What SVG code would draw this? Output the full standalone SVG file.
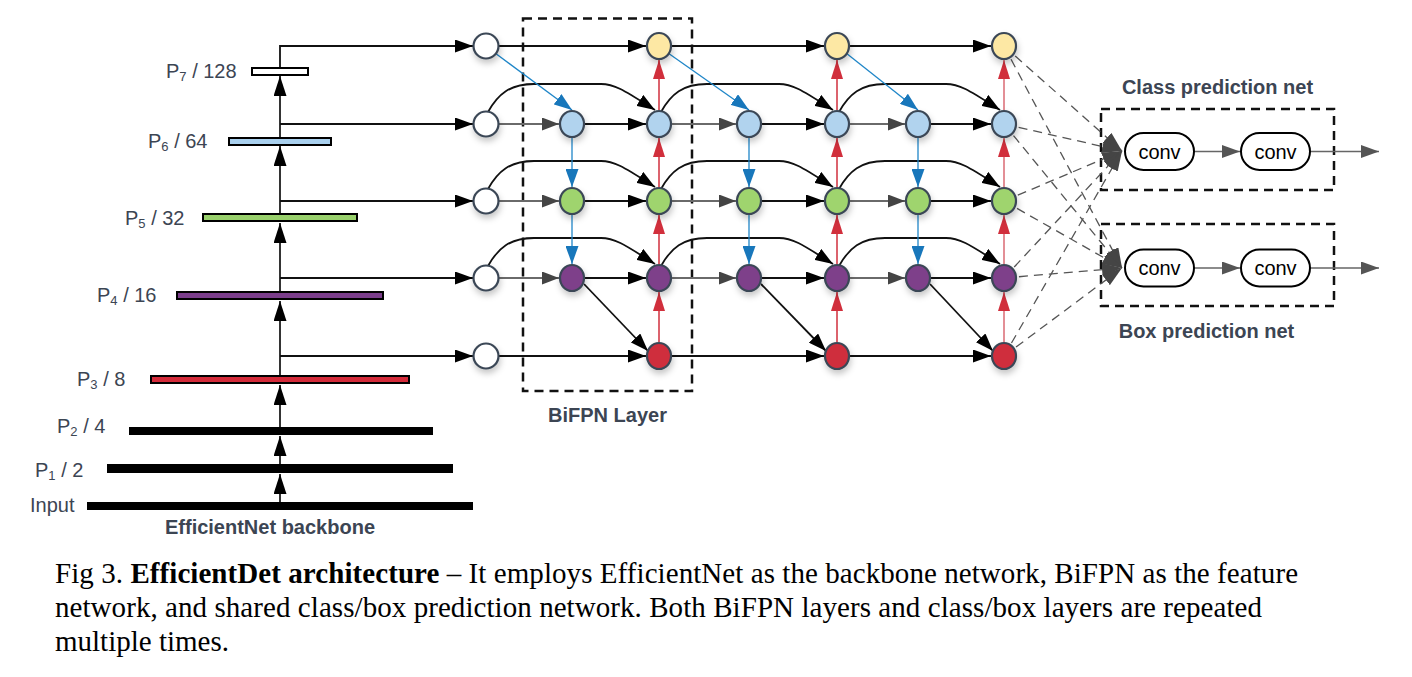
<svg xmlns="http://www.w3.org/2000/svg" width="1412" height="677" viewBox="0 0 1412 677">
<defs>
<style>
.lbl{font-family:"Liberation Sans",Arial,sans-serif;font-size:20px;fill:#3c4553}
.bd{font-weight:bold}
.cap{font-family:"Liberation Serif","Times New Roman",serif;font-size:29px;fill:#000}
.conv{font-family:"Liberation Sans",Arial,sans-serif;font-size:20px;fill:#000;text-anchor:middle}
.node{stroke:#3b4756;stroke-width:2.2;filter:url(#sh)}
.w{fill:#fff}.y{fill:#fde8a4}.b{fill:#b1d3ee}.g{fill:#9fd46e}.p{fill:#7e3f8a}.r{fill:#cf2e3d}
.bb{stroke:#000;stroke-width:1.6;fill:none}
.bba{stroke:#000;stroke-width:1.6;fill:none;marker-end:url(#mbb)}
.k{stroke:#111;stroke-width:1.8;fill:none;marker-end:url(#mk)}
.gr{stroke:#6a6a6a;stroke-width:1.8;fill:none;marker-end:url(#mg)}
.bl{stroke:#1f86c8;stroke-width:1.3;fill:none;marker-end:url(#mb)}
.rd{stroke:#d12f3c;stroke-width:1.5;fill:none;marker-end:url(#mr)}
.rdl{stroke:#e0838b;stroke-width:1.8;fill:none;marker-end:url(#mr)}
.ds{stroke:#555;stroke-width:1.3;stroke-dasharray:9 6;fill:none;marker-end:url(#md)}
.cg{stroke:#666;stroke-width:1.6;fill:none;marker-end:url(#mc)}
.box{fill:none;stroke:#111;stroke-width:2.5;stroke-dasharray:9 6}
.pill{fill:#fff;stroke:#000;stroke-width:2}
</style>
<filter id="sh" x="-60%" y="-60%" width="220%" height="220%"><feDropShadow dx="1" dy="4" stdDeviation="3" flood-color="#000" flood-opacity="0.22"/></filter>
<marker id="mbb" markerUnits="userSpaceOnUse" markerWidth="20" markerHeight="13" refX="20" refY="6.5" orient="auto"><path d="M0,0 L20,6.5 L0,13 Z" fill="#000"/></marker>
<marker id="mk" markerUnits="userSpaceOnUse" markerWidth="18" markerHeight="13" refX="18" refY="6.5" orient="auto"><path d="M0,0 L18,6.5 L0,13 Z" fill="#000"/></marker>
<marker id="mg" markerUnits="userSpaceOnUse" markerWidth="17" markerHeight="13" refX="17" refY="6.5" orient="auto"><path d="M0,0 L17,6.5 L0,13 Z" fill="#444"/></marker>
<marker id="mb" markerUnits="userSpaceOnUse" markerWidth="18" markerHeight="13" refX="18" refY="6.5" orient="auto"><path d="M0,0 L18,6.5 L0,13 Z" fill="#1877bb"/></marker>
<marker id="mr" markerUnits="userSpaceOnUse" markerWidth="19" markerHeight="12" refX="19" refY="6" orient="auto"><path d="M0,0 L19,6 L0,12 Z" fill="#d12f3c"/></marker>
<marker id="md" markerUnits="userSpaceOnUse" markerWidth="20" markerHeight="13" refX="20" refY="6.5" orient="auto"><path d="M0,0 L20,6.5 L0,13 Z" fill="#454545"/></marker>
<marker id="mc" markerUnits="userSpaceOnUse" markerWidth="18" markerHeight="13" refX="18" refY="6.5" orient="auto"><path d="M0,0 L18,6.5 L0,13 Z" fill="#555"/></marker>
</defs>
<rect width="1412" height="677" fill="#fff"/>

<!-- backbone -->
<g id="backbone">
<g id="bar-input"><rect x="87" y="502" width="386" height="8" fill="#000"/><text class="lbl" x="30" y="512">Input</text></g>
<g id="bar-p1"><rect x="107" y="464" width="346" height="9" fill="#000"/><text class="lbl" x="35" y="477">P<tspan font-size="13" dy="3">1</tspan><tspan dy="-3"> / 2</tspan></text></g>
<g id="bar-p2"><rect x="129" y="427" width="304" height="8" fill="#000"/><text class="lbl" x="57" y="433">P<tspan font-size="13" dy="3">2</tspan><tspan dy="-3"> / 4</tspan></text></g>
<g id="bar-p3"><rect x="151" y="376" width="258" height="7" fill="#d42b3a" stroke="#000" stroke-width="2"/><text class="lbl" x="77" y="386">P<tspan font-size="13" dy="3">3</tspan><tspan dy="-3"> / 8</tspan></text></g>
<g id="bar-p4"><rect x="177" y="292" width="206" height="7" fill="#7b3d8b" stroke="#000" stroke-width="2"/><text class="lbl" x="97" y="302">P<tspan font-size="13" dy="3">4</tspan><tspan dy="-3"> / 16</tspan></text></g>
<g id="bar-p5"><rect x="203" y="214" width="154" height="7" fill="#98d06b" stroke="#000" stroke-width="2"/><text class="lbl" x="125" y="225">P<tspan font-size="13" dy="3">5</tspan><tspan dy="-3"> / 32</tspan></text></g>
<g id="bar-p6"><rect x="229" y="138" width="102" height="7" fill="#a9d0ee" stroke="#000" stroke-width="2"/><text class="lbl" x="148" y="148">P<tspan font-size="13" dy="3">6</tspan><tspan dy="-3"> / 64</tspan></text></g>
<g id="bar-p7"><rect x="252" y="68" width="56" height="7" fill="#fff" stroke="#000" stroke-width="2"/><text class="lbl" x="166" y="78">P<tspan font-size="13" dy="3">7</tspan><tspan dy="-3"> / 128</tspan></text></g>
<text class="lbl bd" x="270" y="534" text-anchor="middle">EfficientNet backbone</text>
</g>

<!-- BiFPN layer frame -->
<g id="bifpn-layer">
<rect class="box" x="523" y="18.5" width="169" height="372.5"/>
<text class="lbl bd" x="607.5" y="422" text-anchor="middle">BiFPN Layer</text>
</g>

<!-- prediction nets frames -->
<g id="class-net">
<rect class="box" x="1101" y="109" width="233" height="81"/>
<text class="lbl bd" x="1217.5" y="94" text-anchor="middle">Class prediction net</text>
</g>
<g id="box-net">
<rect class="box" x="1101" y="224" width="233" height="82"/>
<text class="lbl bd" x="1206.5" y="338" text-anchor="middle">Box prediction net</text>
</g>

<!-- connectors -->
<g id="connectors">
<!-- backbone upward -->
<path class="bba" d="M280,502 V474"/>
<path class="bba" d="M280,464 V436"/>
<path class="bba" d="M280,427 V385"/>
<path class="bba" d="M280,375 V301"/>
<path class="bba" d="M280,291 V223"/>
<path class="bba" d="M280,213 V146"/>
<path class="bba" d="M280,137 V76"/>
<!-- backbone to first column -->
<path class="k" d="M280,356 H473"/>
<path class="k" d="M280,278 H473"/>
<path class="k" d="M280,201 H473"/>
<path class="k" d="M280,124 H473"/>
<path class="k" d="M280,67 V46 H473"/>

<!-- row P7 / P3 horizontals -->
<path class="k" d="M499,46 H646"/><path class="k" d="M672,46 H824"/><path class="k" d="M850,46 H991"/>
<path class="k" d="M499,356 H646"/><path class="k" d="M672,356 H824"/><path class="k" d="M850,356 H991"/>

<!-- rows P6,P5,P4 horizontals -->
<path class="gr" d="M499,124 H559"/><path class="k" d="M585,124 H646"/><path class="gr" d="M672,124 H736"/><path class="k" d="M762,124 H824"/><path class="gr" d="M850,124 H905"/><path class="k" d="M931,124 H991"/>
<path class="gr" d="M499,201 H559"/><path class="k" d="M585,201 H646"/><path class="gr" d="M672,201 H736"/><path class="k" d="M762,201 H824"/><path class="gr" d="M850,201 H905"/><path class="k" d="M931,201 H991"/>
<path class="gr" d="M499,278 H559"/><path class="k" d="M585,278 H646"/><path class="gr" d="M672,278 H736"/><path class="k" d="M762,278 H824"/><path class="gr" d="M850,278 H905"/><path class="k" d="M931,278 H991"/>

<!-- skip curves -->
<path class="k" d="M488,112 C498,94 510,84 534,84 L601,84 C615,84 625,91 655,110"/>
<path class="k" d="M661,112 C671,94 683,84 707,84 L779,84 C793,84 803,91 833,110"/>
<path class="k" d="M839,112 C849,94 861,84 885,84 L946,84 C960,84 970,91 1000,110"/>
<path class="k" d="M488,189 C498,171 510,161 534,161 L601,161 C615,161 625,168 655,187"/>
<path class="k" d="M661,189 C671,171 683,161 707,161 L779,161 C793,161 803,168 833,187"/>
<path class="k" d="M839,189 C849,171 861,161 885,161 L946,161 C960,161 970,168 1000,187"/>
<path class="k" d="M488,266 C498,248 510,238 534,238 L601,238 C615,238 625,245 655,264"/>
<path class="k" d="M661,266 C671,248 683,238 707,238 L779,238 C793,238 803,245 833,264"/>
<path class="k" d="M839,266 C849,248 861,238 885,238 L946,238 C960,238 970,245 1000,264"/>

<!-- top-down blue -->
<path class="bl" d="M495,53 L572,110"/>
<path class="bl" d="M668,53 L749,110"/>
<path class="bl" d="M846,53 L918,110"/>
<path class="bl" d="M572,138 V187"/><path class="bl" d="M572,215 V264"/>
<path class="bl" d="M749,138 V187"/><path class="bl" d="M749,215 V264"/>
<path class="bl" d="M918,138 V187"/><path class="bl" d="M918,215 V264"/>

<!-- P4 td to P3 out -->
<path class="k" d="M584,284 L648,351"/>
<path class="k" d="M761,284 L826,351"/>
<path class="k" d="M930,284 L993,351"/>

<!-- bottom-up red -->
<path class="rd" d="M659,342 V292"/><path class="rd" d="M659,264 V215"/><path class="rd" d="M659,187 V138"/><path class="rd" d="M659,110 V60"/>
<path class="rd" d="M837,342 V292"/><path class="rd" d="M837,264 V215"/><path class="rd" d="M837,187 V138"/><path class="rd" d="M837,110 V60"/>
<path class="rdl" d="M1004,342 V292"/><path class="rdl" d="M1004,264 V215"/><path class="rdl" d="M1004,187 V138"/><path class="rdl" d="M1004,110 V60"/>

<!-- to prediction nets -->
<path class="ds" d="M1004,46 L1122,151"/><path class="ds" d="M1004,46 L1122,268"/>
<path class="ds" d="M1004,124 L1122,151"/><path class="ds" d="M1004,124 L1122,268"/>
<path class="ds" d="M1004,201 L1122,151"/><path class="ds" d="M1004,201 L1122,268"/>
<path class="ds" d="M1004,278 L1122,151"/><path class="ds" d="M1004,278 L1122,268"/>
<path class="ds" d="M1004,356 L1122,151"/><path class="ds" d="M1004,356 L1122,268"/>

<!-- conv chains -->
<path class="cg" d="M1194,151.5 H1240"/><path class="cg" d="M1310,151.5 H1379"/>
<path class="cg" d="M1194,268 H1240"/><path class="cg" d="M1310,268 H1379"/>
</g>

<!-- BiFPN nodes -->
<g id="nodes">
<g id="n0-p7"><ellipse class="node w" cx="486" cy="46" rx="12.5" ry="12.5"/></g>
<g id="n0-p6"><ellipse class="node w" cx="486" cy="124" rx="12.5" ry="12.5"/></g>
<g id="n0-p5"><ellipse class="node w" cx="486" cy="201" rx="12.5" ry="12.5"/></g>
<g id="n0-p4"><ellipse class="node w" cx="486" cy="278" rx="12.5" ry="12.5"/></g>
<g id="n0-p3"><ellipse class="node w" cx="486" cy="356" rx="12.5" ry="12.5"/></g>

<g id="n1-p6"><ellipse class="node b" cx="572" cy="124" rx="12" ry="13"/></g>
<g id="n1-p5"><ellipse class="node g" cx="572" cy="201" rx="12" ry="13"/></g>
<g id="n1-p4"><ellipse class="node p" cx="572" cy="278" rx="12" ry="13"/></g>

<g id="n2-p7"><ellipse class="node y" cx="659" cy="46" rx="12" ry="13"/></g>
<g id="n2-p6"><ellipse class="node b" cx="659" cy="124" rx="12" ry="13"/></g>
<g id="n2-p5"><ellipse class="node g" cx="659" cy="201" rx="12" ry="13"/></g>
<g id="n2-p4"><ellipse class="node p" cx="659" cy="278" rx="12" ry="13"/></g>
<g id="n2-p3"><ellipse class="node r" cx="659" cy="356" rx="12" ry="13"/></g>

<g id="n3-p6"><ellipse class="node b" cx="749" cy="124" rx="12" ry="13"/></g>
<g id="n3-p5"><ellipse class="node g" cx="749" cy="201" rx="12" ry="13"/></g>
<g id="n3-p4"><ellipse class="node p" cx="749" cy="278" rx="12" ry="13"/></g>

<g id="n4-p7"><ellipse class="node y" cx="837" cy="46" rx="12" ry="13"/></g>
<g id="n4-p6"><ellipse class="node b" cx="837" cy="124" rx="12" ry="13"/></g>
<g id="n4-p5"><ellipse class="node g" cx="837" cy="201" rx="12" ry="13"/></g>
<g id="n4-p4"><ellipse class="node p" cx="837" cy="278" rx="12" ry="13"/></g>
<g id="n4-p3"><ellipse class="node r" cx="837" cy="356" rx="12" ry="13"/></g>

<g id="n5-p6"><ellipse class="node b" cx="918" cy="124" rx="12" ry="13"/></g>
<g id="n5-p5"><ellipse class="node g" cx="918" cy="201" rx="12" ry="13"/></g>
<g id="n5-p4"><ellipse class="node p" cx="918" cy="278" rx="12" ry="13"/></g>

<g id="n6-p7"><ellipse class="node y" cx="1004" cy="46" rx="12" ry="13"/></g>
<g id="n6-p6"><ellipse class="node b" cx="1004" cy="124" rx="12" ry="13"/></g>
<g id="n6-p5"><ellipse class="node g" cx="1004" cy="201" rx="12" ry="13"/></g>
<g id="n6-p4"><ellipse class="node p" cx="1004" cy="278" rx="12" ry="13"/></g>
<g id="n6-p3"><ellipse class="node r" cx="1004" cy="356" rx="12" ry="13"/></g>
</g>

<!-- conv nodes -->
<g id="class-conv1"><rect class="pill" x="1125" y="133" width="69" height="37" rx="18.5"/><text class="conv" x="1159.5" y="158.5">conv</text></g>
<g id="class-conv2"><rect class="pill" x="1241" y="133" width="69" height="37" rx="18.5"/><text class="conv" x="1275.5" y="158.5">conv</text></g>
<g id="box-conv1"><rect class="pill" x="1125" y="249.5" width="69" height="37" rx="18.5"/><text class="conv" x="1159.5" y="275">conv</text></g>
<g id="box-conv2"><rect class="pill" x="1241" y="249.5" width="69" height="37" rx="18.5"/><text class="conv" x="1275.5" y="275">conv</text></g>

<!-- caption -->
<g id="caption">
<text class="cap" x="55" y="583" textLength="1243" lengthAdjust="spacing">Fig 3. <tspan font-weight="bold">EfficientDet architecture</tspan> – It employs EfficientNet as the backbone network, BiFPN as the feature</text>
<text class="cap" x="55" y="617" textLength="1207" lengthAdjust="spacing">network, and shared class/box prediction network. Both BiFPN layers and class/box layers are repeated</text>
<text class="cap" x="55" y="651">multiple times.</text>
</g>
</svg>
